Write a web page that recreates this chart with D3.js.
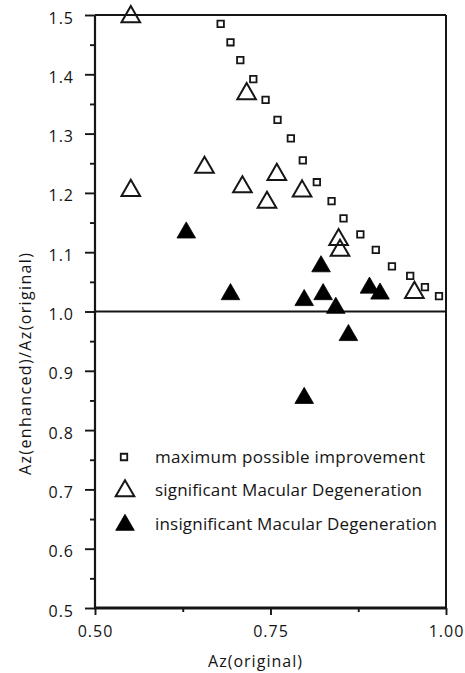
<!DOCTYPE html>
<html>
<head>
<meta charset="utf-8">
<script src="https://cdn.jsdelivr.net/npm/d3@7"></script>
<style>
  html, body { margin: 0; padding: 0; background: #fff; }
  svg { display: block; font-family: "Open Sans", "DejaVu Sans", sans-serif; }
</style>
</head>
<body>
<svg id="chart" width="465" height="673"></svg>
<script>
// Maximum possible improvement (upper bound of the ratio for each Az)
const maxAz    = [0.679, 0.693, 0.707, 0.7255, 0.743, 0.760, 0.779, 0.796, 0.816, 0.837, 0.854, 0.878, 0.900, 0.923, 0.949, 0.970, 0.990];
const maxRatio = [1.485, 1.454, 1.424, 1.392, 1.357, 1.323, 1.292, 1.255, 1.218, 1.186, 1.157, 1.130, 1.104, 1.076, 1.060, 1.041, 1.026];

// Readers with a significant change for macular degeneration
const sigAz    = [0.551, 0.551, 0.656, 0.716, 0.710, 0.745, 0.759, 0.795, 0.847, 0.849, 0.955];
const sigRatio = [1.497, 1.204, 1.243, 1.367, 1.210, 1.184, 1.231, 1.203, 1.121, 1.103, 1.032];

// Readers with an insignificant change
const insAz    = [0.630, 0.693, 0.798, 0.825, 0.822, 0.843, 0.861, 0.798, 0.891, 0.906];
const insRatio = [1.133, 1.029, 1.019, 1.029, 1.076, 1.006, 0.960, 0.854, 1.040, 1.030];

const yMajor = [0.5, 0.6, 0.7, 0.8, 0.9, 1.0, 1.1, 1.2, 1.3, 1.4, 1.5];
const yMinor = [0.55, 0.65, 0.75, 0.85, 0.95, 1.05, 1.15, 1.25, 1.35, 1.45];
const xMajor = [0.50, 0.75, 1.00];
const xMinor = [0.625, 0.875];

const legendLabels = [
  "maximum possible improvement",
  "significant Macular Degeneration",
  "insignificant Macular Degeneration"
];

const ink = "#161616";
const textInk = "#141414";
const svg = d3.select("#chart");

const plotLeft = 95, plotRight = 446, plotTop = 15, plotBottom = 608;
const x = d3.scaleLinear().domain([0.5, 1.0]).range([plotLeft, plotRight]);
const y = d3.scaleLinear().domain([0.5, 1.5]).range([plotBottom, plotTop]);

// Y axis: labelled major ticks and short minor ticks
const yAxisMajor = d3.axisLeft(y).tickValues(yMajor).tickFormat(d3.format(".1f"))
  .tickSize(10).tickSizeOuter(0).tickPadding(11);
const yAxisMinor = d3.axisLeft(y).tickValues(yMinor).tickFormat("")
  .tickSize(5).tickSizeOuter(0);

const gy = svg.append("g").attr("transform", `translate(${plotLeft},0)`).call(yAxisMajor);
const gy2 = svg.append("g").attr("transform", `translate(${plotLeft},0)`).call(yAxisMinor);

// X axis
const xAxisMajor = d3.axisBottom(x).tickValues(xMajor).tickFormat(d3.format(".2f"))
  .tickSize(7).tickSizeOuter(0).tickPadding(11);
const xAxisMinor = d3.axisBottom(x).tickValues(xMinor).tickFormat("")
  .tickSize(4).tickSizeOuter(0);
const gx = svg.append("g").attr("transform", `translate(0,${plotBottom})`).call(xAxisMajor);
const gx2 = svg.append("g").attr("transform", `translate(0,${plotBottom})`).call(xAxisMinor);

[gy, gy2, gx, gx2].forEach(g => {
  g.select(".domain").remove();
  g.selectAll(".tick line").attr("stroke", ink).attr("stroke-width", 1.9);
  g.selectAll(".tick text").attr("fill", textInk).style("font-size", "16px")
    .style("letter-spacing", "1px").style("font-family", "'Open Sans', sans-serif");
});
gy.selectAll(".tick text").attr("dy", "0.5em");

// Frame around the plotting area
const frame = svg.append("g").attr("stroke", ink).attr("fill", "none");
frame.append("line").attr("x1", plotLeft).attr("x2", plotRight).attr("y1", plotTop).attr("y2", plotTop).attr("stroke-width", 2);
frame.append("line").attr("x1", plotRight).attr("x2", plotRight).attr("y1", plotTop).attr("y2", plotBottom).attr("stroke-width", 2);
frame.append("line").attr("x1", plotLeft).attr("x2", plotLeft).attr("y1", plotTop).attr("y2", plotBottom + 1).attr("stroke-width", 2.2);
frame.append("line").attr("x1", plotLeft - 1).attr("x2", plotRight + 1).attr("y1", plotBottom).attr("y2", plotBottom).attr("stroke-width", 2.8);

// Reference line at ratio 1.0
svg.append("line")
  .attr("x1", plotLeft).attr("x2", plotRight)
  .attr("y1", y(1.0)).attr("y2", y(1.0))
  .attr("stroke", ink).attr("stroke-width", 1.9);

const tri = d3.symbol().type(d3.symbolTriangle).size(150);
const sq = d3.symbol().type(d3.symbolSquare).size(42);

// Maximum possible improvement: small open squares
svg.append("g").selectAll("path")
  .data(d3.zip(maxAz, maxRatio))
  .join("path")
  .attr("d", sq)
  .attr("transform", d => `translate(${x(d[0])},${y(d[1])})`)
  .attr("fill", "#fff").attr("stroke", ink).attr("stroke-width", 1.8);

// Significant: open triangles
svg.append("g").selectAll("path")
  .data(d3.zip(sigAz, sigRatio))
  .join("path")
  .attr("d", tri)
  .attr("transform", d => `translate(${x(d[0])},${y(d[1])})`)
  .attr("fill", "none").attr("stroke", ink).attr("stroke-width", 2);

// Insignificant: filled triangles
svg.append("g").selectAll("path")
  .data(d3.zip(insAz, insRatio))
  .join("path")
  .attr("d", tri)
  .attr("transform", d => `translate(${x(d[0])},${y(d[1])})`)
  .attr("fill", "#000").attr("stroke", "#000").attr("stroke-width", 0.8);

// Legend
const legendRows = [457, 490, 524];
const legendWidths = [270, 267, 282];
const lg = svg.append("g");
lg.append("path").attr("d", sq).attr("transform", `translate(124,${legendRows[0]})`)
  .attr("fill", "#fff").attr("stroke", ink).attr("stroke-width", 1.8);
lg.append("path").attr("d", tri).attr("transform", `translate(125,${legendRows[1] + 1})`)
  .attr("fill", "none").attr("stroke", ink).attr("stroke-width", 2);
lg.append("path").attr("d", tri).attr("transform", `translate(125,${legendRows[2] + 1})`)
  .attr("fill", "#000").attr("stroke", "#000").attr("stroke-width", 0.8);
lg.selectAll("text")
  .data(legendLabels)
  .join("text")
  .attr("x", 155)
  .attr("y", (d, i) => legendRows[i])
  .attr("dy", "0.35em")
  .attr("textLength", (d, i) => legendWidths[i])
  .attr("lengthAdjust", "spacing")
  .attr("fill", textInk)
  .style("font-size", "17px")
  .text(d => d);

// Axis titles
svg.append("text")
  .attr("x", 255).attr("y", 661).attr("dy", "0.35em")
  .attr("text-anchor", "middle")
  .attr("textLength", 94).attr("lengthAdjust", "spacing")
  .attr("fill", textInk).style("font-size", "16px")
  .text("Az(original)");

svg.append("text")
  .attr("transform", "translate(25,364) rotate(-90)")
  .attr("dy", "0.35em")
  .attr("text-anchor", "middle")
  .attr("textLength", 222).attr("lengthAdjust", "spacing")
  .attr("fill", textInk).style("font-size", "16px")
  .text("Az(enhanced)/Az(original)");
</script>
</body>
</html>
